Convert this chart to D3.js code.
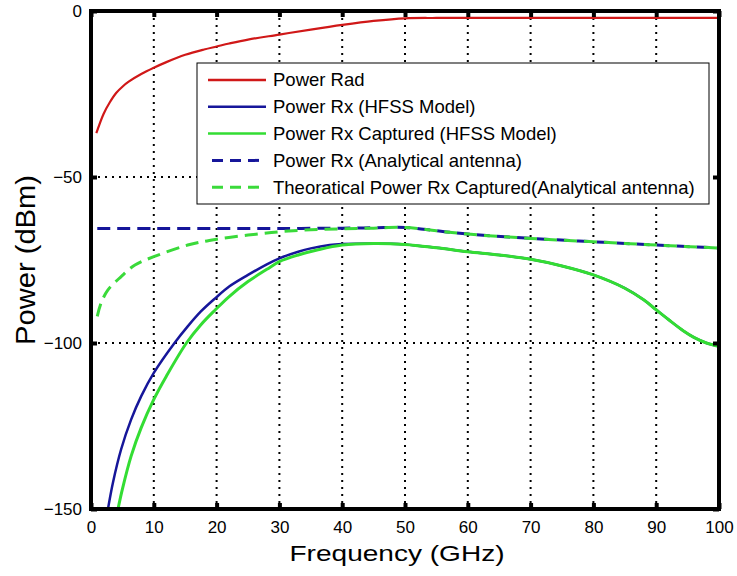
<!DOCTYPE html>
<html>
<head>
<meta charset="utf-8">
<script src="https://cdn.jsdelivr.net/npm/d3@7"></script>
<style>
  body { margin: 0; background: #fff; }
  text { font-family: "Liberation Sans", Arial, sans-serif; fill: #000; }
</style>
</head>
<body>
<div id="chart"></div>
<script>
// data (frequency in GHz, power in dBm)
const fRad = [0.85, 2, 3, 4, 5, 6, 8, 10, 12, 15, 18, 20, 22, 25, 30, 35, 40, 45, 50, 55, 60, 70, 80, 90, 100];
const pRad = [-36.8, -31, -27.5, -24.7, -22.8, -21.3, -19, -17.1, -15.4, -13.2, -11.6, -10.7, -9.8, -8.6, -7.1, -5.6, -4.2, -3.0, -2.2, -2.1, -2.1, -2.1, -2.1, -2.1, -2.1];

const fRxHfss = [2.7, 3.5, 4.8, 6.4, 8, 10, 13.3, 15.4, 17.5, 19.8, 22, 25, 28, 30, 33, 35, 38, 40, 45, 50, 55, 60, 65, 70, 75, 80, 85, 88, 90, 92, 94.3, 96, 98, 100];
const pRxHfss = [-150, -142, -132, -123, -116, -109, -100, -95, -90.5, -86.5, -83, -79.5, -76.3, -74.5, -72.5, -71.5, -70.5, -70.2, -70, -70.3, -71.3, -72.5, -73.5, -74.8, -76.8, -79.5, -83.5, -87, -90, -93, -96.3, -98.3, -100, -101];

const fCapHfss = [4.3, 5, 6.4, 8, 10, 12, 15.2, 17.5, 19.8, 22, 25, 28, 30, 33, 36, 40, 45, 50, 55, 60, 65, 70, 75, 80, 85, 88, 90, 92, 94.3, 96, 98, 100];
const pCapHfss = [-150, -144, -134, -125.5, -117, -110, -100, -94.5, -90, -86, -81.5, -77.8, -75.5, -73.5, -72, -70.5, -70, -70.3, -71.3, -72.5, -73.5, -74.8, -76.8, -79.5, -83.5, -87, -90, -93, -96.3, -98.3, -100, -101];

const fRxAna = [1, 10, 20, 30, 40, 45, 50, 55, 60, 70, 80, 90, 100];
const pRxAna = [-65.5, -65.5, -65.5, -65.5, -65.4, -65.3, -65.2, -66.2, -67.2, -68.5, -69.5, -70.5, -71.4];

const fCapAna = [1, 1.6, 2.7, 4.8, 7, 10, 15.4, 19.8, 25, 30, 35, 40, 45, 50, 55, 60, 70, 80, 90, 100];
const pCapAna = [-92, -88, -84, -80, -76.5, -74, -70.5, -68.8, -67.5, -66.5, -65.9, -65.6, -65.4, -65.2, -66.2, -67.2, -68.5, -69.5, -70.5, -71.4];

const xTicks = [0, 10, 20, 30, 40, 50, 60, 70, 80, 90, 100];
const yTicks = [0, -50, -100, -150];

const seriesNames = [
  "Power Rad",
  "Power Rx (HFSS Model)",
  "Power Rx Captured (HFSS Model)",
  "Power Rx (Analytical antenna)",
  "Theoratical Power Rx Captured(Analytical antenna)"
];

const W = 737, H = 576;
const margin = {top: 11, right: 18, bottom: 67, left: 91};
const width = W - margin.left - margin.right;
const height = H - margin.top - margin.bottom;

const series = [
  {name: seriesNames[0], f: fRad, p: pRad, color: "#d01818", w: 2.2, dash: null},
  {name: seriesNames[1], f: fRxHfss, p: pRxHfss, color: "#16169a", w: 2.5, dash: null},
  {name: seriesNames[2], f: fCapHfss, p: pCapHfss, color: "#33dd33", w: 3, dash: null},
  {name: seriesNames[3], f: fRxAna, p: pRxAna, color: "#16169a", w: 3, dash: "13,7"},
  {name: seriesNames[4], f: fCapAna, p: pCapAna, color: "#3ada3a", w: 3, dash: "13,7"}
];

const svg = d3.select("#chart").append("svg")
    .attr("width", W)
    .attr("height", H);

svg.append("rect").attr("width", W).attr("height", H).attr("fill", "#fff");

const g = svg.append("g")
    .attr("transform", "translate(" + margin.left + "," + margin.top + ")");

const x = d3.scaleLinear().domain([0, 100]).range([0, width]);
const y = d3.scaleLinear().domain([-150, 0]).range([height, 0]);

// grid (dotted)
g.selectAll(".vgrid")
  .data(xTicks.slice(1, -1))
  .enter().append("line")
    .attr("x1", d => x(d)).attr("x2", d => x(d))
    .attr("y1", 0).attr("y2", height)
    .attr("stroke", "#000").attr("stroke-width", 2)
    .attr("stroke-dasharray", "2,5");

g.selectAll(".hgrid")
  .data(yTicks.slice(1, -1))
  .enter().append("line")
    .attr("x1", 0).attr("x2", width)
    .attr("y1", d => y(d)).attr("y2", d => y(d))
    .attr("stroke", "#000").attr("stroke-width", 2)
    .attr("stroke-dasharray", "2,5");

// clip
svg.append("defs").append("clipPath").attr("id", "clip")
  .append("rect").attr("width", width).attr("height", height);

const line = d3.line()
    .x(d => x(d[0]))
    .y(d => y(d[1]))
    .curve(d3.curveCatmullRom.alpha(0.5));

const plot = g.append("g").attr("clip-path", "url(#clip)");
series.forEach(s => {
  plot.append("path")
    .datum(s.f.map((f, i) => [f, s.p[i]]))
    .attr("fill", "none")
    .attr("stroke", s.color)
    .attr("stroke-width", s.w)
    .attr("stroke-dasharray", s.dash)
    .attr("d", line);
});

// axes
const xAxis = d3.axisBottom(x).tickValues(xTicks).tickSize(-6).tickPadding(12).tickFormat(d3.format("d"));
const yAxis = d3.axisLeft(y).tickValues(yTicks).tickSize(-6).tickPadding(9).tickFormat(d3.format("d"));

const gx = g.append("g").attr("transform", "translate(0," + height + ")").call(xAxis);
const gy = g.append("g").call(yAxis);
const gxTop = g.append("g").call(d3.axisTop(x).tickValues(xTicks).tickSize(-6).tickFormat(""));
const gyRight = g.append("g").attr("transform", "translate(" + width + ",0)")
    .call(d3.axisRight(y).tickValues(yTicks).tickSize(-6).tickFormat(""));

[gx, gy, gxTop, gyRight].forEach(a => {
  a.select(".domain").remove();
  a.selectAll(".tick line").attr("stroke", "#000").attr("stroke-width", 4);
  a.selectAll("text").attr("font-size", 17).style("font-family", "'Liberation Sans', Arial, sans-serif");
});

// box
g.append("rect")
    .attr("width", width).attr("height", height)
    .attr("fill", "none").attr("stroke", "#000").attr("stroke-width", 4);

// axis titles
svg.append("text")
    .attr("x", margin.left + width / 2 - 8)
    .attr("y", 561)
    .attr("text-anchor", "middle")
    .attr("font-size", 22)
    .attr("textLength", 215)
    .attr("lengthAdjust", "spacingAndGlyphs")
    .text("Frequency (GHz)");

svg.append("text")
    .attr("transform", "translate(35," + 260 + ") rotate(-90)")
    .attr("text-anchor", "middle")
    .attr("font-size", 27)
    .attr("textLength", 170)
    .attr("lengthAdjust", "spacingAndGlyphs")
    .text("Power (dBm)");

// legend
const leg = svg.append("g").attr("transform", "translate(197,63)");
leg.append("rect")
    .attr("width", 512).attr("height", 141)
    .attr("fill", "#fff").attr("stroke", "#000").attr("stroke-width", 1);

const items = leg.selectAll(".item")
  .data(series)
  .enter().append("g")
    .attr("transform", (d, i) => "translate(0," + (17 + i * 26.8) + ")");

items.append("line")
    .attr("x1", 11).attr("x2", 69)
    .attr("stroke", d => d.color)
    .attr("stroke-width", d => d.dash ? 3 : 2.5)
    .attr("stroke-dasharray", d => d.dash ? "11,7" : null)
    .attr("stroke-dashoffset", d => d.dash ? -4 : null);

items.append("text")
    .attr("x", 76)
    .attr("dy", "0.35em")
    .attr("font-size", 18.5)
    .text(d => d.name);
</script>
</body>
</html>
